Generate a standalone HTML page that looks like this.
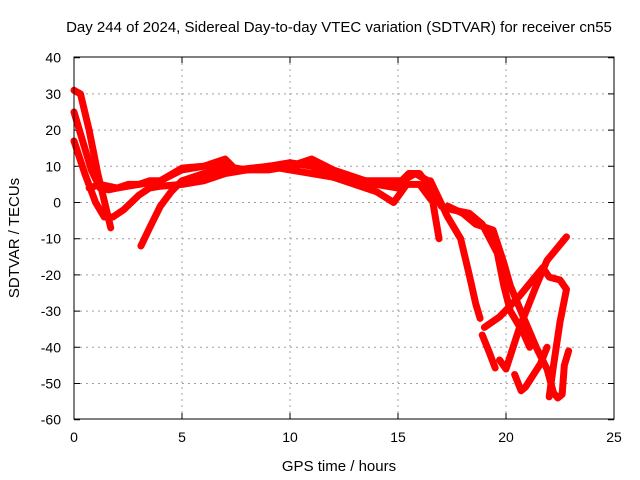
<!DOCTYPE html>
<html><head><meta charset="utf-8"><style>
body{margin:0;background:#fff;}
svg{display:block;font-family:"Liberation Sans",sans-serif;}
</style></head><body>
<svg id="chart" width="640" height="480" viewBox="0 0 640 480">
<rect width="640" height="480" fill="#fff"/>
<text x="339" y="32" font-size="15" text-anchor="middle">Day 244 of 2024, Sidereal Day-to-day VTEC variation (SDTVAR) for receiver cn55</text>
<text x="339" y="471" font-size="15" text-anchor="middle">GPS time / hours</text>
<text transform="translate(19,238) rotate(-90)" font-size="15" text-anchor="middle">SDTVAR / TECUs</text>
<g id="grid"></g>
<g id="ticks"></g>
<g id="series"></g>
<rect x="74" y="57" width="540" height="362" fill="none" stroke="#000" stroke-width="1"/>
</svg>
<script>
const xTicks=[0,5,10,15,20,25];
const yTicks=[40,30,20,10,0,-10,-20,-30,-40,-50,-60];
const sAh=[0,0.3,0.7,1.1,1.5,1.7];
const sAv=[31,30,20,8,-2,-7];
const sBh=[0,0.4,0.8,1.2,1.6,2,2.5,3,4,5,6,7,8,9,10,11,12,13,14,15];
const sBv=[25,17,9,4,3.5,4,5,5,6,9,10,10,9,10,10,11,8,6,5,4];
const sCh=[0,0.5,1,1.4,1.8,2.3,3,3.5,4,5,6,7,8,9,10,11,12,13,14,15,15.5,16,16.5,16.9];
const sCv=[17,8,0,-4,-4,-2,2,4,4.5,5,6,8,9,9,10,12,9,7,5,5,8,8,4,-10];
const sDh=[0.7,1.2,2,3,3.5,4,5,6,7,7.5,9,10,11,12,13,14,14.8,15.4,16,16.5];
const sDv=[4,5,4,5,6,6,9.5,10,12,9,10,11,10,7,5,3,0,5,5,1];
const sEh=[3.1,3.5,4,4.5,5,6,7,8,9,10,11,12,13,14,15.2,15.8,16.4,17,17.5,18.3,18.9,19.6,19.9,20.2,20.8,21.1];
const sEv=[-12,-7,-1,3,6,8,9,9,10,9,8,7,6,6,6,8,6,-1,-2,-3,-6,-14,-23,-30,-36,-40];
const sFh=[16.5,17.3,17.9,18.3,18.6,18.8];
const sFv=[6,-4,-10,-20,-28,-32];
const sGh=[17.3,18,18.6,19.4,19.9,20.2,20.8,21.4,21.9,22.2,22.4,22.6,22.7,22.9];
const sGv=[-1,-3,-6,-7.6,-16.7,-23,-31.6,-40,-46,-52.6,-54,-53,-45,-41];
const sHh=[19.7,20,20.6,21.4,21.9,22.8];
const sHv=[-43.5,-46,-35,-23,-16,-9.5];
const sIh=[19,19.7,20.6,21.7,22,22.5,22.8,22.5,22.2,22];
const sIv=[-34.5,-31.6,-26,-18,-20.6,-21.4,-24,-33,-45,-53.7];
const sJh=[20.4,20.7,20.9,21.6,21.9];
const sJv=[-47.5,-52,-51,-44.5,-40];
const sKh=[18.9,19.2,19.5];
const sKv=[-36.6,-41,-45.7];
const series=[[sAh,sAv],[sBh,sBv],[sCh,sCv],[sDh,sDv],[sEh,sEv],[sFh,sFv],[sGh,sGv],[sHh,sHv],[sIh,sIv],[sJh,sJv],[sKh,sKv]];
const NS="http://www.w3.org/2000/svg";
function px(h){return 74+h*21.6;}
function py(v){return 202.5-v*3.62;}
const grid=document.getElementById('grid'),ticks=document.getElementById('ticks'),sg=document.getElementById('series');
xTicks.forEach(t=>{
  const x=px(t);
  if(t>0&&t<25){const l=document.createElementNS(NS,'line');
  
  
  l.setAttribute('x1',x);l.setAttribute('x2',x);l.setAttribute('y1',57);l.setAttribute('y2',419);
  l.setAttribute('stroke','#a0a0a0');l.setAttribute('stroke-dasharray','2,4');grid.appendChild(l);}
  const tk=document.createElementNS(NS,'path');
  
  
  tk.setAttribute('d',`M${x},419v-6M${x},57v6`);tk.setAttribute('stroke','#000');ticks.appendChild(tk);
  const tx=document.createElementNS(NS,'text');
  
  
  tx.setAttribute('x',x);tx.setAttribute('y',442);tx.setAttribute('font-size','14');tx.setAttribute('text-anchor','middle');
  tx.textContent=t;ticks.appendChild(tx);
});
yTicks.forEach(t=>{
  const y=py(t);
  if(t<40&&t>-60){const l=document.createElementNS(NS,'line');
  
  
  l.setAttribute('x1',74);l.setAttribute('x2',614);l.setAttribute('y1',y);l.setAttribute('y2',y);
  l.setAttribute('stroke','#a0a0a0');l.setAttribute('stroke-dasharray','2,4');grid.appendChild(l);}
  const tk=document.createElementNS(NS,'path');
  
  
  tk.setAttribute('d',`M74,${y}h6M614,${y}h-6`);tk.setAttribute('stroke','#000');ticks.appendChild(tk);
  const tx=document.createElementNS(NS,'text');
  
  
  tx.setAttribute('x',61);tx.setAttribute('y',y+5);tx.setAttribute('font-size','14');tx.setAttribute('text-anchor','end');
  tx.textContent=t;ticks.appendChild(tx);
});
series.forEach(([hs,vs])=>{
  const p=document.createElementNS(NS,'polyline');
  
  
  p.setAttribute('points',hs.map((h,i)=>px(h)+','+py(vs[i])).join(' '));
  p.setAttribute('fill','none');p.setAttribute('stroke','#ff0000');p.setAttribute('stroke-width','7');
  p.setAttribute('stroke-linejoin','round');p.setAttribute('stroke-linecap','round');
  sg.appendChild(p);
});
</script>
</body></html>
